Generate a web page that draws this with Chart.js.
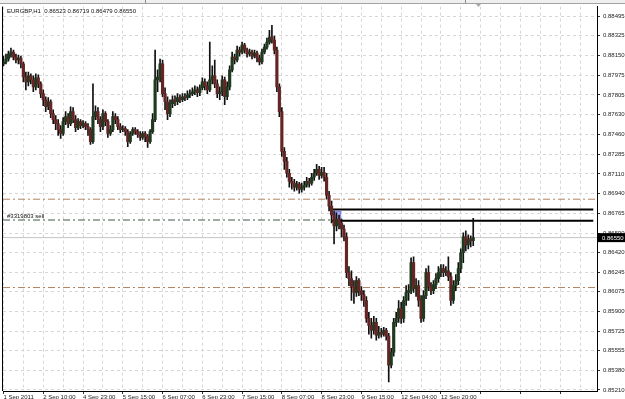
<!DOCTYPE html>
<html><head><meta charset="utf-8">
<script src="https://cdn.jsdelivr.net/npm/chart.js@4.4.1/dist/chart.umd.min.js"></script>
<style>html,body{margin:0;padding:0;background:#fff;overflow:hidden}canvas{display:block}</style>
</head><body>
<canvas id="c" width="625" height="399"></canvas>
<script>
const symbol = 'EURGBP,H1';
const timeLabels = ['1 Sep 2011','2 Sep 10:00','4 Sep 23:00','5 Sep 15:00','6 Sep 07:00','6 Sep 23:00','7 Sep 15:00','8 Sep 07:00','8 Sep 23:00','9 Sep 15:00','12 Sep 04:00','12 Sep 20:00'];
const yTickValues = [0.88495,0.88325,0.88150,0.87975,0.87805,0.87630,0.87460,0.87285,0.87110,0.86940,0.86765,0.86590,0.86420,0.86245,0.86075,0.85900,0.85725,0.85555,0.85380,0.85210];

const opens = [
0.88078,0.88095,0.88121,0.88165,0.88182,0.88138,0.88112,0.88130,0.88078,0.87963,
0.87920,0.87972,0.87937,0.87876,0.87955,0.87903,0.87816,0.87763,0.87701,0.87745,
0.87641,0.87588,0.87553,0.87500,0.87466,0.87570,0.87614,0.87553,0.87658,0.87588,
0.87518,0.87570,0.87535,0.87553,0.87526,0.87500,0.87395,0.87614,0.87658,0.87588,
0.87526,0.87641,0.87570,0.87466,0.87500,0.87614,0.87588,0.87526,0.87500,0.87509,
0.87483,0.87395,0.87466,0.87500,0.87483,0.87457,0.87431,0.87466,0.87439,0.87395,
0.87483,0.87588,0.87937,0.87963,0.88078,0.87816,0.87745,0.87641,0.87728,0.87763,
0.87745,0.87781,0.87763,0.87789,0.87781,0.87807,0.87816,0.87833,0.87850,0.87824,
0.87868,0.87920,0.87885,0.87850,0.87937,0.87972,0.87903,0.87816,0.87833,0.87937,
0.87789,0.87876,0.88025,0.88138,0.88112,0.88199,0.88182,0.88243,0.88199,0.88165,
0.88182,0.88147,0.88173,0.88130,0.88095,0.88182,0.88225,0.88269,0.88313,0.88287,
0.88199,0.87876,0.87658,0.87308,0.87221,0.87116,0.87046,0.87029,0.86994,0.87020,
0.86976,0.86994,0.87011,0.87046,0.87029,0.87081,0.87116,0.87151,0.87098,0.87124,
0.87081,0.86923,0.86827,0.86749,0.86652,0.86714,0.86679,0.86626,0.86557,0.86242,
0.86189,0.86120,0.86067,0.86172,0.86084,0.86049,0.85997,0.85840,0.85778,0.85735,
0.85805,0.85691,0.85718,0.85700,0.85735,0.85683,0.85429,0.85543,0.85805,0.85840,
0.85927,0.85840,0.85997,0.86067,0.86084,0.86330,0.86102,0.86128,0.85997,0.85840,
0.86040,0.86242,0.86120,0.86084,0.86137,0.86189,0.86242,0.86277,0.86242,0.86259,
0.86207,0.85997,0.86128,0.86172,0.86277,0.86417,0.86557,0.86486,0.86539,0.86523];

const highs = [
0.88147,0.88165,0.88190,0.88217,0.88199,0.88165,0.88156,0.88147,0.88095,0.88007,
0.88007,0.87990,0.87972,0.87990,0.87981,0.87920,0.87850,0.87789,0.87781,0.87763,
0.87675,0.87623,0.87588,0.87535,0.87606,0.87658,0.87641,0.87701,0.87693,0.87623,
0.87597,0.87588,0.87579,0.87570,0.87553,0.87518,0.87903,0.87710,0.87693,0.87614,
0.87675,0.87658,0.87588,0.87535,0.87658,0.87641,0.87614,0.87553,0.87535,0.87526,
0.87500,0.87483,0.87518,0.87518,0.87500,0.87483,0.87483,0.87483,0.87457,0.87500,
0.87641,0.88199,0.88025,0.88121,0.88112,0.87868,0.87789,0.87763,0.87798,0.87798,
0.87816,0.87807,0.87816,0.87816,0.87841,0.87850,0.87868,0.87885,0.87876,0.87894,
0.87955,0.87946,0.87920,0.88269,0.88060,0.88112,0.87937,0.87876,0.87972,0.87963,
0.87920,0.88060,0.88182,0.88165,0.88234,0.88225,0.88269,0.88260,0.88217,0.88208,
0.88199,0.88199,0.88190,0.88156,0.88208,0.88252,0.88305,0.88374,0.88418,0.88322,
0.88225,0.87903,0.87693,0.87343,0.87256,0.87151,0.87081,0.87063,0.87046,0.87037,
0.87029,0.87046,0.87081,0.87072,0.87116,0.87151,0.87195,0.87177,0.87169,0.87169,
0.87116,0.86958,0.86871,0.86784,0.86767,0.86749,0.86714,0.86661,0.86592,0.86295,
0.86259,0.86172,0.86207,0.86189,0.86120,0.86084,0.86032,0.85893,0.85840,0.85858,
0.85840,0.85770,0.85752,0.85761,0.85752,0.85709,0.85577,0.85840,0.85893,0.85997,
0.85980,0.86032,0.86128,0.86137,0.86373,0.86382,0.86189,0.86172,0.86040,0.86084,
0.86277,0.86303,0.86155,0.86172,0.86233,0.86295,0.86312,0.86312,0.86295,0.86382,
0.86242,0.86172,0.86224,0.86330,0.86451,0.86592,0.86609,0.86574,0.86565,0.86719];

const lows = [
0.88060,0.88078,0.88103,0.88138,0.88112,0.88086,0.88078,0.88043,0.87920,0.87850,
0.87885,0.87903,0.87833,0.87850,0.87868,0.87781,0.87710,0.87658,0.87675,0.87606,
0.87553,0.87500,0.87448,0.87422,0.87448,0.87544,0.87518,0.87535,0.87561,0.87483,
0.87500,0.87509,0.87518,0.87500,0.87448,0.87369,0.87378,0.87588,0.87553,0.87483,
0.87500,0.87535,0.87431,0.87448,0.87483,0.87553,0.87500,0.87474,0.87483,0.87448,
0.87351,0.87378,0.87448,0.87457,0.87431,0.87404,0.87413,0.87395,0.87343,0.87378,
0.87466,0.87570,0.87833,0.87920,0.87789,0.87675,0.87588,0.87614,0.87693,0.87710,
0.87719,0.87736,0.87745,0.87754,0.87763,0.87781,0.87798,0.87807,0.87789,0.87798,
0.87850,0.87850,0.87816,0.87833,0.87903,0.87868,0.87781,0.87763,0.87798,0.87719,
0.87763,0.87850,0.88007,0.88078,0.88095,0.88147,0.88165,0.88173,0.88138,0.88147,
0.88121,0.88130,0.88095,0.88069,0.88078,0.88165,0.88208,0.88252,0.88260,0.88165,
0.87833,0.87614,0.87264,0.87151,0.87081,0.86994,0.86976,0.86958,0.86967,0.86941,
0.86949,0.86967,0.86994,0.86994,0.87011,0.87054,0.87098,0.87063,0.87072,0.87046,
0.86888,0.86784,0.86679,0.86495,0.86609,0.86626,0.86557,0.86521,0.86198,0.86128,
0.85997,0.85971,0.86032,0.86040,0.85997,0.85945,0.85805,0.85700,0.85665,0.85700,
0.85647,0.85665,0.85674,0.85683,0.85647,0.85281,0.85403,0.85508,0.85770,0.85805,
0.85796,0.85805,0.85953,0.85997,0.86058,0.86067,0.86032,0.85945,0.85805,0.85813,
0.86014,0.86084,0.86049,0.86058,0.86102,0.86155,0.86207,0.86207,0.86215,0.86172,
0.85953,0.85971,0.86084,0.86137,0.86242,0.86330,0.86434,0.86451,0.86469,0.86479];

const closes = [
0.88095,0.88121,0.88165,0.88182,0.88138,0.88112,0.88130,0.88078,0.87963,0.87920,
0.87972,0.87937,0.87876,0.87955,0.87903,0.87816,0.87763,0.87701,0.87745,0.87641,
0.87588,0.87553,0.87500,0.87466,0.87570,0.87614,0.87553,0.87658,0.87588,0.87518,
0.87570,0.87535,0.87553,0.87526,0.87500,0.87395,0.87614,0.87658,0.87588,0.87526,
0.87641,0.87570,0.87466,0.87500,0.87614,0.87588,0.87526,0.87500,0.87509,0.87483,
0.87395,0.87466,0.87500,0.87483,0.87457,0.87431,0.87466,0.87439,0.87395,0.87483,
0.87588,0.87937,0.87963,0.88078,0.87816,0.87745,0.87641,0.87728,0.87763,0.87745,
0.87781,0.87763,0.87789,0.87781,0.87807,0.87816,0.87833,0.87850,0.87824,0.87868,
0.87920,0.87885,0.87850,0.87937,0.87972,0.87903,0.87816,0.87833,0.87937,0.87789,
0.87876,0.88025,0.88138,0.88112,0.88199,0.88182,0.88243,0.88199,0.88165,0.88182,
0.88147,0.88173,0.88130,0.88095,0.88182,0.88225,0.88269,0.88313,0.88287,0.88199,
0.87876,0.87658,0.87308,0.87221,0.87116,0.87046,0.87029,0.86994,0.87020,0.86976,
0.86994,0.87011,0.87046,0.87029,0.87081,0.87116,0.87151,0.87098,0.87124,0.87081,
0.86923,0.86827,0.86749,0.86652,0.86714,0.86679,0.86626,0.86557,0.86242,0.86189,
0.86120,0.86067,0.86172,0.86084,0.86049,0.85997,0.85840,0.85778,0.85735,0.85805,
0.85691,0.85718,0.85700,0.85735,0.85683,0.85429,0.85543,0.85805,0.85840,0.85927,
0.85840,0.85997,0.86067,0.86084,0.86330,0.86102,0.86128,0.85997,0.85840,0.86040,
0.86242,0.86120,0.86084,0.86137,0.86189,0.86242,0.86277,0.86242,0.86259,0.86207,
0.85997,0.86128,0.86172,0.86277,0.86417,0.86557,0.86486,0.86539,0.86521,0.86550];

const dashedLevels = [0.86888, 0.86111];
const sellLevel = [0.86705];
const sellLabel = '#3319803 sell';
const blackLevels = [0.86797, 0.86698];
const blackStartBar = [132];
const markerBar = [134.6];
const markerRange = [0.86679, 0.86784];
const bidPrice = [0.86550];

const X_MIN = -0.2, X_MAX = 238.8;
const FONT = 'Liberation Sans';

const bodyColors = opens.map((o, i) => closes[i] >= o ? '#1f3a1f' : '#662424');

const datasets = [
  { type: 'bar', label: 'bodies', data: opens.map((o, i) => ({ x: i, y: [o, closes[i]] })),
    backgroundColor: bodyColors, barThickness: 2.5, grouped: false, minBarLength: 1, order: 0 },
  { type: 'bar', label: 'wicks', data: lows.map((l, i) => ({ x: i, y: [l, highs[i]] })),
    backgroundColor: '#101010', barThickness: 1, grouped: false, order: 1 },
];
blackLevels.forEach(v => datasets.push({ type: 'line', label: 'black', data: [{ x: blackStartBar[0], y: v }, { x: X_MAX - 1.5, y: v }],
  borderColor: '#000', borderWidth: 2, pointRadius: 0, order: 2 }));
dashedLevels.forEach(v => datasets.push({ type: 'line', label: 'lvl', data: [{ x: X_MIN, y: v }, { x: X_MAX, y: v }],
  borderColor: '#b08462', borderWidth: 1, borderDash: [7, 3, 2, 3], pointRadius: 0, order: 3 }));
datasets.push({ type: 'line', label: 'sell', data: [{ x: X_MIN, y: sellLevel[0] }, { x: blackStartBar[0], y: sellLevel[0] }],
  borderColor: '#3a5a44', borderWidth: 1, borderDash: [7, 3, 2, 3], pointRadius: 0, order: 3 });
datasets.push({ type: 'line', label: 'bid', data: [{ x: X_MIN, y: bidPrice[0] }, { x: X_MAX, y: bidPrice[0] }],
  borderColor: '#c4c4c4', borderWidth: 1, pointRadius: 0, order: 4 });
datasets.push({ type: 'bar', label: 'marker', data: [{ x: markerBar[0], y: markerRange }],
  backgroundColor: 'rgba(120,128,255,0.55)', borderColor: 'rgba(80,80,220,0.7)', borderWidth: 1,
  barThickness: 6, grouped: false, order: 5 });

const deco = {
  id: 'deco',
  beforeDraw(chart) {
    const c = chart.ctx, w = chart.width;
    c.save();
    c.fillStyle = '#fff'; c.fillRect(0, 0, w, chart.height);
    c.fillStyle = '#efefef'; c.fillRect(0, 0, w, 3);
    c.fillStyle = '#a2a2a2'; c.fillRect(0, 3, w, 1);
    c.fillStyle = '#8a8a8a'; c.fillRect(145, 0, 1, 3); c.fillRect(465, 0, 1, 3);
    c.restore();
  },
  afterDraw(chart) {
    const c = chart.ctx, a = chart.chartArea, ys = chart.scales.y;
    c.save();
    c.fillStyle = '#000'; c.fillRect(a.left - 1, a.top, 1, a.bottom - a.top);
    c.fillStyle = '#a8a8a8';
    c.beginPath(); c.moveTo(476, 4); c.lineTo(481, 4); c.lineTo(478.5, 7); c.closePath(); c.fill();
    c.font = '6px ' + FONT; c.fillStyle = '#111'; c.textBaseline = 'middle'; c.textAlign = 'left';
    const n = closes.length - 1;
    const head = symbol + '  ' + [opens[n], highs[n], lows[n], closes[n]].map(v => v.toFixed(5)).join(' ');
    c.fillText(head, a.left + 4, a.top + 5);
    c.textBaseline = 'bottom';
    c.fillText(sellLabel, a.left + 4, ys.getPixelForValue(sellLevel[0]) - 0.5);
    const by = ys.getPixelForValue(bidPrice[0]);
    c.fillStyle = '#000'; c.fillRect(a.right + 1, by - 4.5, chart.width - a.right - 1, 9);
    c.fillStyle = '#fff'; c.textBaseline = 'middle';
    c.fillText(bidPrice[0].toFixed(5), a.right + 5, by + 0.5);
    c.restore();
  }
};

new Chart(document.getElementById('c'), {
  type: 'bar',
  data: { datasets },
  plugins: [deco],
  options: {
    responsive: false, animation: false, devicePixelRatio: 1, events: [],
    layout: { padding: { left: 3, top: 4, right: 0, bottom: 0 } },
    plugins: { legend: { display: false }, tooltip: { enabled: false }, title: { display: false } },
    scales: {
      x: {
        type: 'linear', min: X_MIN, max: X_MAX, offset: false,
        afterBuildTicks: s => { s.ticks = []; for (let v = 0; v <= X_MAX; v += 8) s.ticks.push({ value: v }); },
        afterFit: s => { s.height = 8; },
        ticks: { font: { family: FONT, size: 6 }, color: '#222', padding: 0, align: 'start', maxRotation: 0, minRotation: 0, autoSkip: false,
          callback: v => (v % 16 === 0 && timeLabels[v / 16]) || '' },
        grid: { color: '#d6d6d6', offset: false, tickLength: 3, tickBorderDash: [],
          tickColor: ctx => (ctx.tick && ctx.tick.value % 16 === 0) ? '#333' : 'rgba(0,0,0,0)' },
        border: { display: true, color: '#000', width: 1, dash: [3, 3] }
      },
      y: {
        type: 'linear', position: 'right', min: 0.85201, max: 0.88582, beginAtZero: false,
        afterBuildTicks: s => { s.ticks = yTickValues.map(v => ({ value: v })); },
        afterFit: s => { s.width = 28; },
        ticks: { font: { family: FONT, size: 6 }, color: '#222', padding: 3, autoSkip: false, callback: v => v.toFixed(5) },
        grid: { color: '#d6d6d6', tickLength: 3, tickColor: '#333', tickBorderDash: [] },
        border: { display: true, color: '#000', width: 1, dash: [3, 3] }
      }
    }
  }
});
</script>
</body></html>
